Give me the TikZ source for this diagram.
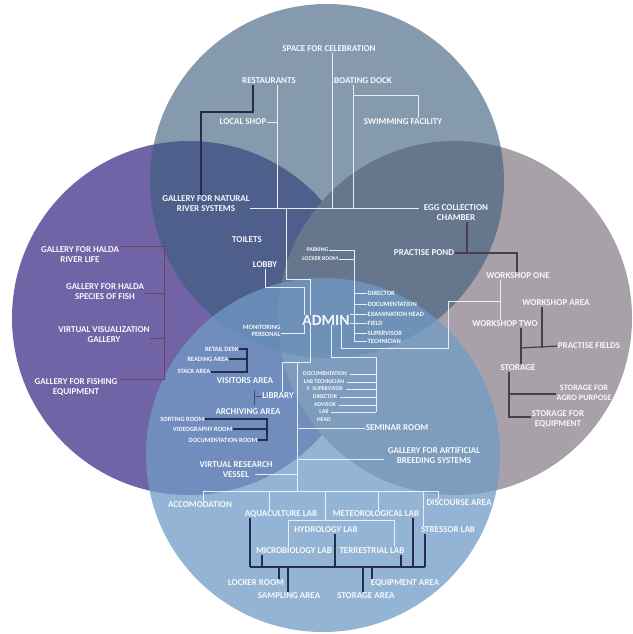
\documentclass[tikz,border=0pt]{standalone}
\usepackage{fontspec}
\setmainfont{Carlito}[BoldFont={Carlito Bold}]
\definecolor{cT}{RGB}{60,92,124}
\definecolor{cL}{RGB}{112,100,166}
\definecolor{cR}{RGB}{169,161,170}
\definecolor{cB}{RGB}{112,155,198}
\definecolor{txt}{RGB}{246,248,252}
\definecolor{wl}{RGB}{232,238,246}
\definecolor{navy}{RGB}{36,45,78}
\definecolor{maroon}{RGB}{112,64,96}
\definecolor{plum}{RGB}{72,62,78}
\begin{document}
\begin{tikzpicture}[x=1pt,y=-1pt,
  lbl/.style={text=txt,font=\fontsize{9}{10}\selectfont\bfseries,align=center,inner sep=0.5pt},
  sml/.style={text=txt,font=\fontsize{6.5}{7.5}\selectfont\bfseries,inner sep=0.5pt},
  tny/.style={text=txt,font=\fontsize{5.8}{6.4}\selectfont\bfseries,inner sep=0.5pt},
  wire/.style={draw=wl,line width=0.7pt},
  dwire/.style={draw=navy,line width=1.3pt},
  mwire/.style={draw=maroon,line width=0.8pt},
  pwire/.style={draw=plum,line width=1.2pt}]
\useasboundingbox (0,0) rectangle (632,634);
\fill[white] (0,0) rectangle (632,634);
% circles
\fill[cL] (189,318) circle[radius=177pt];
\fill[cR] (455,318) circle[radius=177pt];
\fill[cT,fill opacity=0.62] (327,181) circle[radius=177pt];
\fill[cB,fill opacity=0.75] (323,455) circle[radius=177pt];

% ---------- top circle labels
\node[lbl] (space) at (329,49) {SPACE FOR CELEBRATION};
\node[lbl] (rest) at (269,81) {RESTAURANTS};
\node[lbl] (boat) at (363,81) {BOATING DOCK};
\node[lbl] (shop) at (243,122) {LOCAL SHOP};
\node[lbl] (swim) at (403,122) {SWIMMING FACILITY};
\node[lbl] (gnat) at (206,204) {GALLERY FOR NATURAL\\RIVER SYSTEMS};
\node[lbl] (egg) at (456,213) {EGG COLLECTION\\CHAMBER};
\node[lbl] (toil) at (247,240) {TOILETS};
\node[lbl] (lobby) at (265,265) {LOBBY};
\node[tny,anchor=east] (park) at (329,250) {PARKING};
\node[tny,anchor=east] (lockA) at (339,259) {LOCKER ROOM};
\node[lbl] (pond) at (424,253) {PRACTISE POND};
\node[text=txt,font=\fontsize{15.5}{16}\selectfont\bfseries,inner sep=0pt] (admin) at (326,320) {ADMIN};
\node[sml,align=right,anchor=east] (mon) at (281,331) {MONITORING\\PERSONAL};
\node[sml,anchor=west] (d1) at (367,293) {DIRECTOR};
\node[sml,anchor=west] (d2) at (367,304) {DOCUMENTATION};
\node[sml,anchor=west] (d3) at (367,314) {EXAMINATION HEAD};
\node[sml,anchor=west] (d4) at (367,323) {FIELD};
\node[sml,anchor=west] (d5) at (367,333) {SUPERVISOR};
\node[sml,anchor=west] (d6) at (367,341) {TECHNICIAN};

% ---------- left circle labels
\node[lbl] (hriver) at (80,255) {GALLERY FOR HALDA\\RIVER LIFE};
\node[lbl] (hspec) at (105,292) {GALLERY FOR HALDA\\SPECIES OF FISH};
\node[lbl] (virt) at (104,335) {VIRTUAL VISUALIZATION\\GALLERY};
\node[lbl] (fish) at (76,387) {GALLERY FOR FISHING\\EQUIPMENT};

% ---------- library block
\node[sml,anchor=east] (retail) at (239,349) {RETAIL DESK};
\node[sml,anchor=east] (read) at (229,359) {READING AREA};
\node[sml,anchor=east] (stack) at (211,371) {STACK AREA};
\node[lbl] (visit) at (245,381) {VISITORS AREA};
\node[lbl] (lib) at (278,396) {LIBRARY};
\node[lbl] (arch) at (248,412) {ARCHIVING AREA};
\node[sml,anchor=east] (sort) at (205,419) {SORTING ROOM};
\node[sml,anchor=east] (video) at (233,429) {VIDEOGRAPHY ROOM};
\node[sml,anchor=east] (docr) at (258,440) {DOCUMENTATION ROOM};

% ---------- list under admin
\node[tny] (u1) at (325,374) {DOCUMENTATION};
\node[tny] (u2) at (324,382) {LAB TECHNICIAN};
\node[tny] (u3) at (325,389) {F. SUPERVISOR};
\node[tny] (u4) at (325,397) {DIRECTOR};
\node[tny] (u5) at (325,405) {ADVISOR};
\node[tny] (u6) at (324,412) {LAB};
\node[tny] (u7) at (324,420) {HEAD};
\node[lbl] (sem) at (397,428) {SEMINAR ROOM};
\node[lbl] (art) at (434,456) {GALLERY FOR ARTIFICIAL\\BREEDING SYSTEMS};
\node[lbl] (vrv) at (236,470) {VIRTUAL RESEARCH\\VESSEL};

% ---------- right circle labels
\node[lbl] (w1) at (518,276) {WORKSHOP ONE};
\node[lbl] (warea) at (556,303) {WORKSHOP AREA};
\node[lbl] (w2) at (505,324) {WORKSHOP TWO};
\node[lbl] (pfield) at (589,346) {PRACTISE FIELDS};
\node[lbl] (storage) at (518,368) {STORAGE};
\node[lbl,font=\fontsize{8.3}{9.5}\selectfont\bfseries] (sagro) at (584,393) {STORAGE FOR\\AGRO PURPOSE};
\node[lbl] (seq) at (558,419) {STORAGE FOR\\EQUIPMENT};

% ---------- bottom labels
\node[lbl] (acc) at (200,505) {ACCOMODATION};
\node[lbl] (aqua) at (281,514) {AQUACULTURE LAB};
\node[lbl] (met) at (376,514) {METEOROLOGICAL LAB};
\node[lbl] (disc) at (459,503) {DISCOURSE AREA};
\node[lbl] (hydro) at (326,530) {HYDROLOGY LAB};
\node[lbl] (stress) at (448,530) {STRESSOR LAB};
\node[lbl] (micro) at (294,551) {MICROBIOLOGY LAB};
\node[lbl] (terr) at (372,551) {TERRESTRIAL LAB};
\node[lbl] (lockB) at (256,583) {LOCKER ROOM};
\node[lbl] (samp) at (289,596) {SAMPLING AREA};
\node[lbl] (stor) at (366,596) {STORAGE AREA};
\node[lbl] (equip) at (405,583) {EQUIPMENT AREA};

% ---------- junction coordinates
\coordinate (jA) at (286,208);
\coordinate (jB) at (297,362);
\coordinate (jC) at (297,491);
\coordinate (jD) at (325,520);

% ---------- top connectors
\draw[wire] (gnat.east |- jA) -- ([xshift=-4pt]egg.west |- jA);
\draw[wire] (rest.south -| 277,0) -- (277,208);
\draw[wire] (shop.east) -- (shop.east -| 277,0);
\draw[wire] (space.south -| 332,0) -- (332,208);
\draw[wire] (boat.south -| 353,0) -- (353,208);
\draw[wire] (353,95) -- (418,95) -- (swim.north -| 418,0);
\draw[dwire] (rest.south -| 253,0) -- (253,112) -- (201,112) -- (gnat.north -| 201,0);
\draw[wire] (jA) -- (286,279) -- (310,279) -- (admin.north -| 310,0);
\draw[wire] (lobby.south) -- (265,287) -- (304,287) -- (admin.north -| 304,0);
\draw[wire] (mon.east |- 0,333) -- (304,333) -- (admin.south -| 304,0);
\draw[wire] (park.east) -- (354,250) -- (354,341);
\draw[wire] (lockA.east) -- (354,259);
\foreach \n in {d1,d2,d3,d4,d5,d6} \draw[wire] (\n.west -| 354,0) -- (\n.west);
\draw[wire] (admin.east |- d3.west) -- (d3.west);
\draw[wire] (admin.east |- d4.west) -- (d4.west);

% ---------- admin downward
\draw[wire] (admin.south -| 331,0) -- (331,357) -- (376,357) -- (376,412);
\foreach \n in {u1,u2,u3,u4,u5,u6} \draw[wire] ([xshift=2pt]\n.east) -- (\n.east -| 376,0);
\draw[wire] (admin.south -| 341,0) -- (341,348) -- (448,348) -- (448,301) -- (500,301);
\draw[wire] (w1.south -| 500,0) -- (w2.north -| 500,0);
\draw[wire] (admin.south -| 310,0) -- (310,362) -- (282,362) -- (lib.north -| 282,0);
\draw[wire] (jB) -- (jC);
\draw[wire] (297,428) -- (sem.west);
\draw[wire] (297,459) -- ([xshift=-3pt]art.west |- 0,459);
\draw[wire] (255,474) -- (297,474);

% ---------- bottom tree
\draw[wire] (203,491) -- (438,491);
\draw[wire] (203,491) -- (acc.north -| 203,0);
\draw[wire] (269,491) -- (aqua.north -| 269,0);
\draw[wire] (325,491) -- (jD);
\draw[wire] (288,520) -- (394,520);
\draw[wire] (288,520) -- (micro.north -| 288,0);
\draw[wire] (394,520) -- (terr.north -| 394,0);
\draw[wire] (378,491) -- (met.north -| 378,0);
\draw[wire] (423,491) -- (stress.north -| 423,0);
\draw[wire] (438,491) -- (disc.north -| 438,0);

\draw[dwire] (250,567) -- (425,567);
\draw[dwire] (aqua.south -| 250,0) -- (250,567);
\draw[dwire] (micro.south -| 262,0) -- (262,567);
\draw[dwire] (hydro.south -| 335,0) -- (335,567);
\draw[dwire] (terr.south -| 401,0) -- (401,567);
\draw[dwire] (met.south -| 413,0) -- (413,567);
\draw[dwire] (stress.south -| 425,0) -- (425,567);
\draw[dwire] (279,567) -- (lockB.north -| 279,0);
\draw[dwire] (288,567) -- (samp.north -| 288,0);
\draw[dwire] (363,567) -- (stor.north -| 363,0);
\draw[dwire] (372,567) -- (equip.north -| 372,0);

% ---------- left circle connectors
\draw[mwire] (121,246) -- (164,246) -- (164,379) -- (120,379);
\draw[mwire] (hspec.east |- 0,293) -- (164,293);
\draw[mwire] (virt.east |- 0,338) -- (164,338);

% ---------- library connectors
\draw[dwire] (retail.east) -- (247,349) -- (247,372) -- (stack.east |- 0,372);
\draw[dwire] (read.east) -- (247,359);
\draw[draw=navy!60!gray,line width=0.8pt] (254,390) -- (254,405);
\draw[draw=navy!60!gray,line width=0.8pt] (254,397) -- (lib.west);
\draw[dwire] (sort.east) -- (267,419) -- (267,440) -- (docr.east);
\draw[dwire] (video.east) -- (267,429);

% ---------- right circle connectors
\draw[pwire] (egg.south -| 467,0) -- (467,253);
\draw[pwire] (pond.east) -- (517,253) -- (w1.north -| 517,0);
\draw[pwire] (warea.south -| 542,0) -- (542,348);
\draw[pwire] (521,348) -- (pfield.west);
\draw[pwire] (w2.south -| 521,0) -- (storage.north -| 521,0);
\draw[pwire] (storage.south -| 509,0) -- (509,417) -- (seq.west |- 0,417);
\draw[pwire] (509,394) -- (sagro.west |- 0,394);
\end{tikzpicture}
\end{document}
